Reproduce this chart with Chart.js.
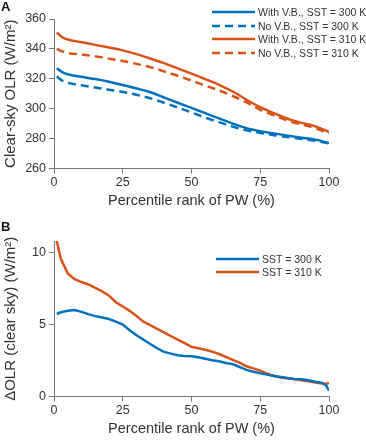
<!DOCTYPE html>
<html>
<head>
<meta charset="utf-8">
<script src="https://cdn.jsdelivr.net/npm/chart.js@4.4.1/dist/chart.umd.min.js"></script>
<style>
  html, body { margin: 0; padding: 0; background: #fff; }
  body { width: 366px; height: 440px; position: relative; overflow: hidden;
         font-family: 'Liberation Sans', Arial, sans-serif; color: #333; }
  .box { position: absolute; left: 0; width: 366px; }
  #boxA { top: 0; height: 212px; }
  #boxB { top: 212px; height: 228px; }
  .panel { position: absolute; left: 1px; font-weight: bold; font-size: 13px; line-height: 1; color: #111; }
  .legend { position: absolute; font-size: 10.5px; }
  .row { position: absolute; left: 0; height: 14px; white-space: nowrap; }
  .row svg { position: absolute; left: 0; top: 0; }
  .row span { position: absolute; top: 0; line-height: 14px; }
</style>
</head>
<body>
<div class="box" id="boxA"><canvas id="chartA"></canvas></div>
<div class="box" id="boxB"><canvas id="chartB"></canvas></div>
<div class="panel" style="top:0px">A</div>
<div class="panel" style="top:220px">B</div>
<div class="legend" id="legendA" style="left:212px; top:5px"></div>
<div class="legend" id="legendB" style="left:216px; top:252px"></div>

<script>
const BLUE = "#0072BD";
const ORANGE = "#D95319";

// panel A: clear-sky OLR vs percentile rank of PW
const pctA = [1, 3, 5, 10, 15, 20, 25, 30, 35, 40, 45, 50, 55, 60, 65, 70, 75, 80, 85, 90, 95, 100];
const withVB300 = [327, 324.5, 323, 321.3, 319.8, 318, 315.8, 313.5, 311, 307.5, 304, 300.5, 297, 293.5, 290, 287, 285, 283.5, 282, 280.6, 279.3, 277];
const noVB300 = [321.5, 318.8, 317.3, 315.7, 314.2, 312.7, 311.2, 309.3, 307, 304, 300.8, 297.5, 294, 291, 288, 285.5, 283.8, 282.3, 281, 279.8, 278.5, 276.8];
const withVB310 = [351, 347.8, 346.3, 344.5, 342.7, 341, 339, 336.5, 333.6, 330.5, 327, 323.5, 319.8, 316, 311.5, 306, 301, 297, 293.3, 290.5, 288.2, 284.5];
const noVB310 = [340, 338.3, 337.3, 336.2, 335, 333.5, 331.9, 330, 327.8, 325, 322, 318.8, 315.5, 312.2, 308.5, 304.2, 299.3, 295.5, 292, 289.5, 287, 283.5];
const legendA = ["With V.B., SST = 300 K", "No V.B., SST = 300 K", "With V.B., SST = 310 K", "No V.B., SST = 310 K"];

// panel B: difference (with - without V.B.)
const pctB = [1, 2.5, 5, 7.5, 10, 12.5, 15, 17.5, 20, 22.5, 25, 27.5, 30, 32.5, 35, 37.5, 40, 42.5, 45, 47.5, 50,
  52.5, 55, 57.5, 60, 62.5, 65, 67.5, 70, 72.5, 75, 77.5, 80, 82.5, 85, 87.5, 90, 92.5, 95, 97.5, 99, 100];
const dOLR300 = [5.73, 5.85, 5.95, 6.0, 5.88, 5.72, 5.58, 5.48, 5.38, 5.2, 5.0, 4.6, 4.25, 3.95, 3.65, 3.35, 3.1, 2.98, 2.87, 2.82, 2.8,
  2.72, 2.62, 2.52, 2.45, 2.33, 2.25, 2.05, 1.85, 1.72, 1.62, 1.52, 1.43, 1.35, 1.28, 1.22, 1.2, 1.13, 1.03, 0.95, 0.75, 0.4];
const dOLR310 = [10.8, 9.55, 8.55, 8.15, 7.95, 7.78, 7.55, 7.3, 7.0, 6.55, 6.25, 5.95, 5.6, 5.2, 4.95, 4.7, 4.45, 4.2, 3.95, 3.7, 3.45,
  3.35, 3.25, 3.12, 2.95, 2.75, 2.55, 2.35, 2.1, 1.95, 1.8, 1.58, 1.42, 1.32, 1.25, 1.2, 1.13, 1.05, 0.98, 0.9, 0.88, 0.95];
const legendB = ["SST = 300 K", "SST = 310 K"];

const xTicks = [0, 25, 50, 75, 100];
const yTicksA = [260, 280, 300, 320, 340, 360];
const yTicksB = [0, 5, 10];

Chart.defaults.font.family = "'Liberation Sans', Arial, sans-serif";
Chart.defaults.color = "#333";

function points(xs, ys) {
  return xs.map((x, i) => ({ x: x, y: ys[i] }));
}

function series(xs, ys, color, dashed, smooth) {
  return {
    data: points(xs, ys),
    borderColor: color,
    borderWidth: 2.5,
    borderDash: dashed ? [8, 5] : [],
    pointRadius: 0,
    tension: smooth ? 0.4 : 0,
    cubicInterpolationMode: smooth ? "monotone" : "default",
    fill: false
  };
}

function axisStyle() {
  return {
    grid: { drawOnChartArea: false, color: "#777", tickLength: 5, lineWidth: 1 },
    border: { color: "#777", width: 1 }
  };
}

function makeChart(id, datasets, yMin, yMax, yTicks, yTitle, padTop) {
  const xAxis = Object.assign(axisStyle(), {
    type: "linear",
    min: 0,
    max: 100,
    afterBuildTicks: (s) => { s.ticks = xTicks.map((v) => ({ value: v })); },
    afterFit: (s) => { s.height = 43.5; },
    ticks: { font: { size: 12.5 }, padding: 2, maxRotation: 0 },
    title: { display: true, text: "Percentile rank of PW (%)", font: { size: 14.5 }, padding: { top: 2, bottom: 2 } }
  });
  const yAxis = Object.assign(axisStyle(), {
    type: "linear",
    min: yMin,
    max: yMax,
    afterBuildTicks: (s) => { s.ticks = yTicks.map((v) => ({ value: v })); },
    afterFit: (s) => { s.width = 54; },
    ticks: { font: { size: 12.5 }, padding: 3 },
    title: { display: true, text: yTitle, font: { size: 15 }, padding: { top: 2, bottom: 2 } }
  });

  return new Chart(document.getElementById(id), {
    type: "line",
    data: { datasets: datasets },
    options: {
      responsive: true,
      maintainAspectRatio: false,
      animation: false,
      events: [],
      layout: { padding: { top: padTop, right: 37, left: 0, bottom: 0 } },
      plugins: { legend: { display: false }, tooltip: { enabled: false } },
      scales: { x: xAxis, y: yAxis }
    }
  });
}

makeChart("chartA", [
  series(pctA, withVB300, BLUE, false, true),
  series(pctA, noVB300, BLUE, true, true),
  series(pctA, withVB310, ORANGE, false, true),
  series(pctA, noVB310, ORANGE, true, true)
], 260, 360, yTicksA, "Clear-sky OLR (W/m\u00B2)", 19);

makeChart("chartB", [
  series(pctB, dOLR300, BLUE, false, false),
  series(pctB, dOLR310, ORANGE, false, false)
], 0, 10.8, yTicksB, "\u0394OLR (clear sky) (W/m\u00B2)", 29);

function buildLegend(elId, labels, colors, dashes, rowGap) {
  const el = document.getElementById(elId);
  labels.forEach((label, i) => {
    const row = document.createElement("div");
    row.className = "row";
    row.style.top = (i * rowGap) + "px";
    const dash = dashes[i] ? ' stroke-dasharray="8 5"' : "";
    row.innerHTML =
      '<svg width="44" height="14"><line x1="0" y1="7" x2="43" y2="7" stroke="' + colors[i] +
      '" stroke-width="2.5"' + dash + '/></svg><span style="left:46px">' + label + "</span>";
    el.appendChild(row);
  });
}

buildLegend("legendA", legendA, [BLUE, BLUE, ORANGE, ORANGE], [false, true, false, true], 13.7);
buildLegend("legendB", legendB, [BLUE, ORANGE], [false, false], 13.4);
</script>
</body>
</html>
